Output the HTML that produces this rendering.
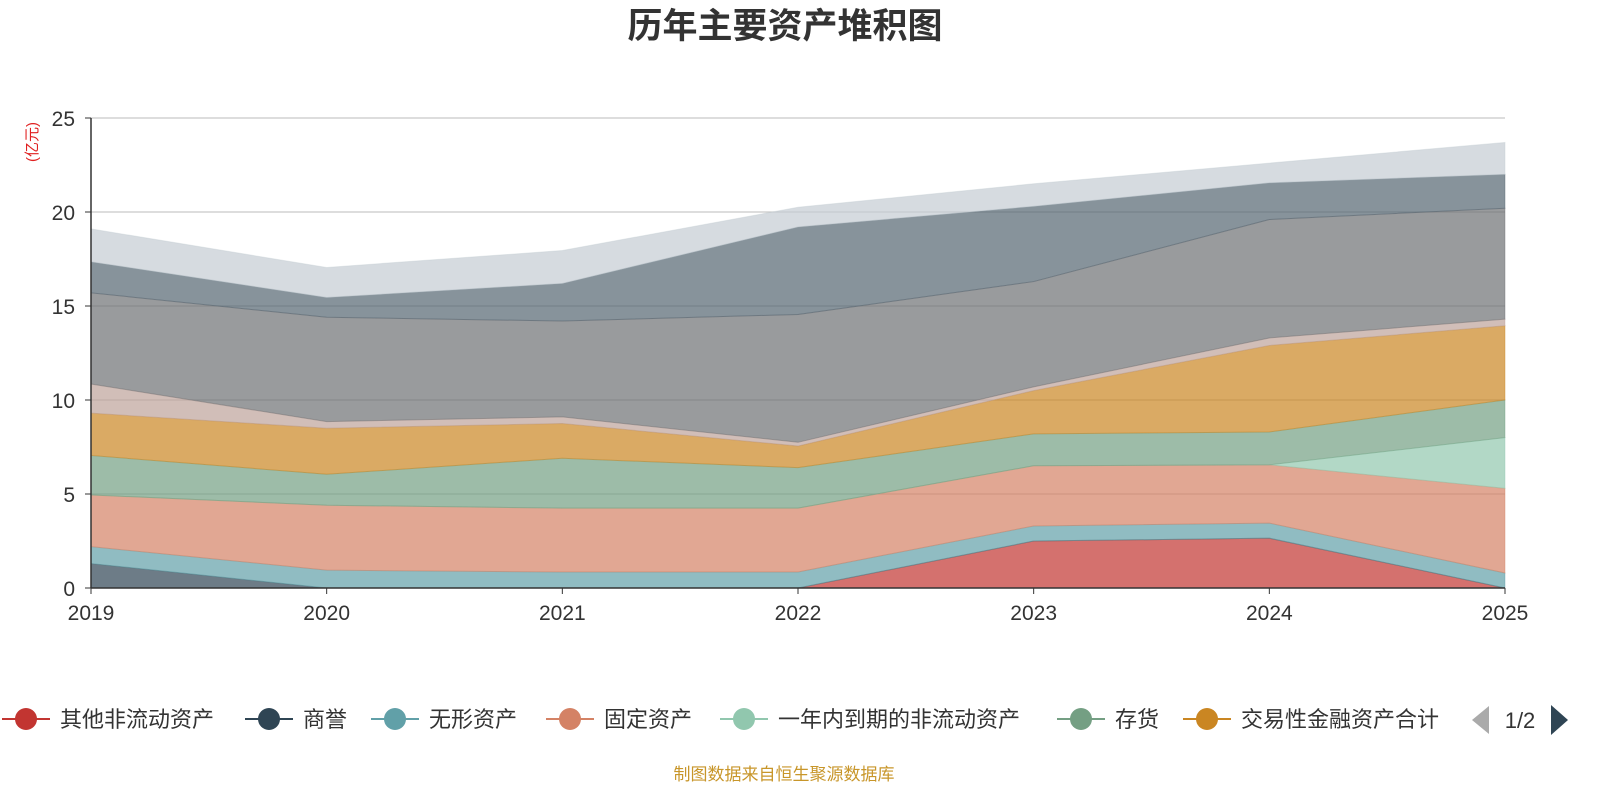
<!DOCTYPE html>
<html><head><meta charset="utf-8">
<style>
html,body{margin:0;padding:0;background:#fff;}
body{width:1600px;height:800px;overflow:hidden;font-family:"Liberation Sans","Noto Sans CJK SC",sans-serif;}
</style></head>
<body>
<svg id="chart" width="1600" height="800" xmlns="http://www.w3.org/2000/svg" font-family="Liberation Sans, Noto Sans CJK SC, sans-serif">
<text x="785" y="38" text-anchor="middle" font-size="35" font-weight="bold" fill="#333">历年主要资产堆积图</text>
<text transform="translate(37,142) rotate(-90)" text-anchor="middle" font-size="15" fill="#e02020">(亿元)</text>
<g id="grid"></g><g id="areas"></g><g id="axes"></g><g id="legend"></g>
<text x="784" y="780" text-anchor="middle" font-size="17" fill="#c8962a">制图数据来自恒生聚源数据库</text>
</svg>
<script>
const years=['2019','2020','2021','2022','2023','2024','2025'];
const yTicks=[0,5,10,15,20,25];
const seriesNames=['其他非流动资产','商誉','无形资产','固定资产','一年内到期的非流动资产','存货','交易性金融资产合计','s8','s9','s10','s11'];
const colors=['#c23531','#2f4554','#61a0a8','#d48265','#91c7ae','#749f83','#ca8622','#bda29a','#6e7074','#546570','#c4ccd3'];
const vOther=[0,0,0,0,2.5,2.65,0];
const vGoodwill=[1.3,0,0,0,0,0,0];
const vIntangible=[0.9,0.95,0.85,0.85,0.8,0.8,0.8];
const vFixed=[2.75,3.45,3.4,3.4,3.2,3.1,4.5];
const vCurrentNonCur=[0,0,0,0,0,0,2.7];
const vInventory=[2.1,1.65,2.65,2.15,1.7,1.75,2.0];
const vTrading=[2.25,2.45,1.85,1.15,2.3,4.6,3.95];
const vS8=[1.55,0.35,0.35,0.2,0.2,0.4,0.35];
const vS9=[4.85,5.55,5.1,6.8,5.6,6.3,5.9];
const vS10=[1.65,1.05,2.0,4.65,4.0,1.95,1.8];
const vS11=[1.75,1.6,1.75,1.05,1.2,1.05,1.7];
const series=[vOther,vGoodwill,vIntangible,vFixed,vCurrentNonCur,vInventory,vTrading,vS8,vS9,vS10,vS11];
const X0=91,X1=1505,Y0=588,Y1=118,YMAX=25;
const xs=i=>X0+(X1-X0)*i/(years.length-1);
const ys=v=>Y0-(Y0-Y1)*v/YMAX;
const NS='http://www.w3.org/2000/svg';
function mk(tag,attrs,parent){const e=document.createElementNS(NS,tag);for(const k in attrs)e.setAttribute(k,attrs[k]);parent.appendChild(e);return e;}
const grid=document.getElementById('grid'),areas=document.getElementById('areas'),axes=document.getElementById('axes'),legend=document.getElementById('legend');
yTicks.forEach(t=>{
 if(t>0){const l=mk('line',{x1:X0,x2:X1,y1:ys(t),y2:ys(t),stroke:'#bbb','stroke-width':1},grid);
 
 }
 const tx=mk('text',{x:75,y:ys(t)+8,'text-anchor':'end','font-size':21,fill:'#333'},axes);tx.textContent=t;
 
 
 mk('line',{x1:X0-6,x2:X0,y1:ys(t),y2:ys(t),stroke:'#333'},axes);
});
let base=years.map(()=>0);
series.forEach((s,k)=>{
 const top=base.map((b,i)=>b+s[i]);
 let d='M'+years.map((_,i)=>xs(i)+','+ys(top[i])).join(' L');
 for(let i=years.length-1;i>=0;i--)d+=' L'+xs(i)+','+ys(base[i]);
 d+=' Z';
 const p=mk('path',{d:d,fill:colors[k],'fill-opacity':0.7,stroke:colors[k],'stroke-opacity':0.4,'stroke-width':1},areas);
 
 
 base=top;
});
mk('line',{x1:X0,x2:X0,y1:Y1,y2:Y0,stroke:'#333','stroke-width':1.5},axes);
mk('line',{x1:X0,x2:X1,y1:Y0,y2:Y0,stroke:'#333','stroke-width':1.5},axes);
years.forEach((y,i)=>{
 mk('line',{x1:xs(i),x2:xs(i),y1:Y0,y2:Y0+6,stroke:'#333'},axes);
 const t=mk('text',{x:xs(i),y:620,'text-anchor':'middle','font-size':21,fill:'#333'},axes);t.textContent=y;
 
 
});
const legX=[2,245,371,546,720,1057,1183];
for(let k=0;k<7;k++){
 const g=mk('g',{},legend);
 
 
 const x=legX[k];
 mk('line',{x1:x,x2:x+48,y1:719,y2:719,stroke:colors[k],'stroke-width':2},g);
 mk('circle',{cx:x+24,cy:719,r:11,fill:colors[k]},g);
 const t=mk('text',{x:x+58,y:727,'font-size':22,fill:'#333'},g);t.textContent=seriesNames[k];
}
const pl=mk('path',{d:'M1489,706 L1472,720 L1489,734 Z',fill:'#aaa'},legend);


const pt=mk('text',{x:1520,y:728,'text-anchor':'middle','font-size':22,fill:'#333'},legend);pt.textContent='1/2';


const pn=mk('path',{d:'M1551,705 L1568,720 L1551,735 Z',fill:'#2f4554'},legend);


</script>
</body></html>
